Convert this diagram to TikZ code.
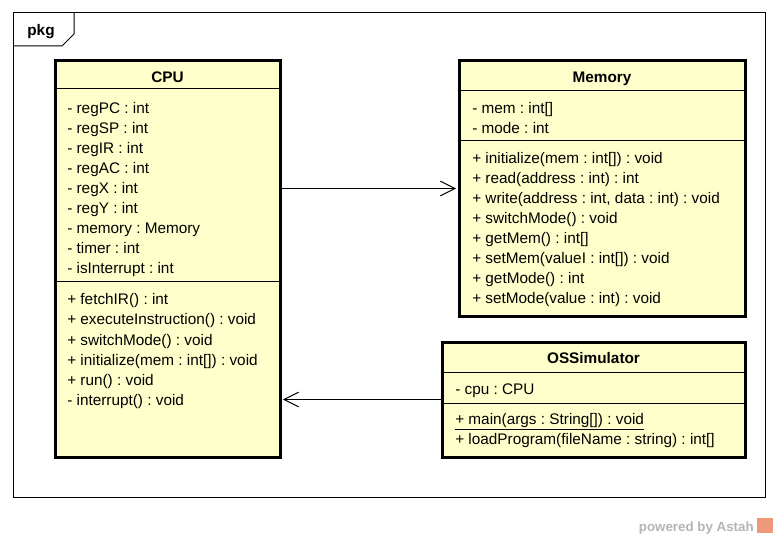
\documentclass[tikz,border=0pt]{standalone}
\usepackage{fontspec}
\setmainfont{Liberation Sans}
\usetikzlibrary{arrows.meta,positioning,fit}
\definecolor{classfill}{HTML}{FFFFCC}
\definecolor{wmgray}{HTML}{B4B4B4}
\definecolor{astahorange}{HTML}{EE9A7A}
\frenchspacing

\tikzset{
  frame/.style={draw,line width=0.75pt,inner sep=0pt},
  classbox/.style={draw,fill=classfill,line width=2.25pt,inner sep=0pt},
  classname/.style={anchor=base,font=\fontsize{11.5}{15}\selectfont\bfseries,inner sep=0pt},
  member/.style={anchor=base west,font=\fontsize{11.5}{15}\selectfont,inner sep=0pt},
  sep/.style={line width=0.75pt},
  assoc/.style={line width=0.75pt,-{Straight Barb[length=11pt,width=11pt]},shorten >=1pt}
}

\begin{document}
\begin{tikzpicture}[x=0.75pt,y=-0.75pt]
    \useasboundingbox (0,0) rectangle (778,538);
    \node[frame,fit={(13,13) (765,497)}] (pkgframe) {};
    \draw[sep] (13,46) -- (62,46) -- (74,34) -- (74,13);
    \node[classname] (pkg) at (41,36) {pkg};

    \node[classbox,fit={(55,61) (280,457)}] (cpu) {};
    \node[classname] (cpuname) at (167.5,83) {CPU};
    \draw[sep] (cpu.west |- 0,89) -- (cpu.east |- 0,89);
    \draw[sep] (cpu.west |- 0,282) -- (cpu.east |- 0,282);
    \foreach \t [count=\i from 0] in {- regPC : int, - regSP : int, - regIR : int,
        - regAC : int, - regX : int, - regY : int, - memory : Memory, - timer : int,
        - isInterrupt : int}
        \node[member] (cpuattr\i) at (67,114+20*\i) {\t};
    \foreach \t [count=\i from 0] in {+ fetchIR() : int, + executeInstruction() : void,
        + switchMode() : void, + initialize(mem : int[]) : void, + run() : void,
        - interrupt() : void}
        \node[member] (cpuop\i) at (67,305+20*\i) {\t};

    \node[classbox,fit={(459,61) (745,316)}] (mem) {};
    \node[classname] (memname) at (602,83) {Memory};
    \draw[sep] (mem.west |- 0,91) -- (mem.east |- 0,91);
    \draw[sep] (mem.west |- 0,141) -- (mem.east |- 0,141);
    \foreach \t [count=\i from 0] in {- mem : int[], - mode : int}
        \node[member] (memattr\i) at (472,114+20*\i) {\t};
    \foreach \t [count=\i from 0] in {+ initialize(mem : int[]) : void,
        + read(address : int) : int, {+ write(address : int, data : int) : void},
        + switchMode() : void, + getMem() : int[], + setMem(valueI : int[]) : void,
        + getMode() : int, + setMode(value : int) : void}
        \node[member] (memop\i) at (472,164+20*\i) {\t};

    \node[classbox,fit={(442,342) (745,457)}] (os) {};
    \node[classname] (osname) at (593.5,363) {OSSimulator};
    \draw[sep] (os.west |- 0,372) -- (os.east |- 0,372);
    \draw[sep] (os.west |- 0,403) -- (os.east |- 0,403);
    \node[member] (osattr) at (455,394) {- cpu : CPU};
    \node[member] (osop0) at (455,424) {\underline{+ main(args : String[]) : void}};
    \node[member] (osop1) at (455,444) {+ loadProgram(fileName : string) : int[]};

    \draw[assoc] (cpu.east |- mem.west) -- (mem.west);
    \draw[assoc] (os.west) -- (cpu.east |- os.west);

    \node[anchor=base east,inner sep=0pt,text=wmgray,
        font=\fontsize{10}{12}\selectfont\bfseries] (astah) at (754,531) {powered by Astah};
    \fill[astahorange] (757,518) rectangle (773,533);
\end{tikzpicture}
\end{document}
